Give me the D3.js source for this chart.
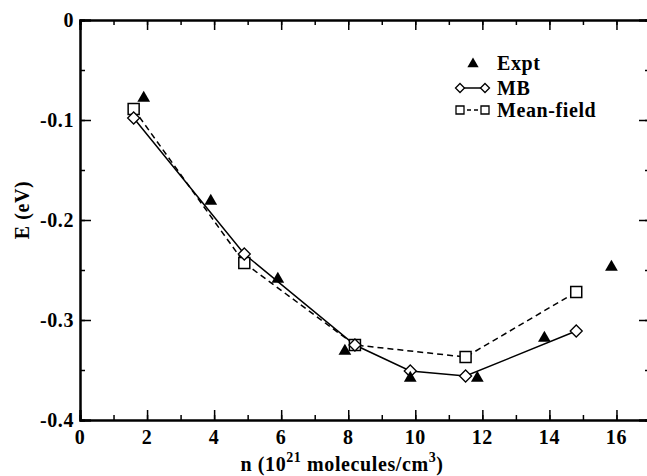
<!DOCTYPE html>
<html>
<head>
<meta charset="utf-8">
<script src="https://cdn.jsdelivr.net/npm/d3@7"></script>
<style>
  body { margin: 0; background: #fff; }
  text { font-family: "Liberation Serif", "DejaVu Serif", serif; font-weight: bold; fill: #000; letter-spacing: 0.6px; }
</style>
</head>
<body>
<div id="svg-container"></div>
<script>
const Width = 647;
const Height = 476;

// data
const exptN = [1.9, 3.9, 5.9, 7.9, 9.85, 11.85, 13.85, 15.85];
const exptE = [-0.078, -0.181, -0.259, -0.331, -0.358, -0.358, -0.318, -0.247];
const mbN = [1.6, 4.9, 8.2, 9.85, 11.5, 14.8];
const mbE = [-0.098, -0.234, -0.325, -0.351, -0.356, -0.311];
const mfN = [1.6, 4.9, 8.2, 11.5, 14.8];
const mfE = [-0.089, -0.243, -0.325, -0.337, -0.272];
const xTicks = [0, 2, 4, 6, 8, 10, 12, 14, 16];
const yTicks = [0, -0.1, -0.2, -0.3, -0.4];
const yTickLabels = ["0", "-0.1", "-0.2", "-0.3", "-0.4"];

const svg = d3.select("#svg-container").append("svg").attr("width", Width).attr("height", Height);

const x = d3.scaleLinear().domain([0, 17]).range([80, 650]);
const y = d3.scaleLinear().domain([-0.4, 0]).range([420, 20]);

// axes (ticks inside)
const axisG = svg.append("g");
const minorX = d3.range(0, 18, 1);
const minorY = d3.range(0, 9).map(i => -i * 0.05);
axisG.append("g").attr("transform", "translate(0,420)")
    .call(d3.axisBottom(x).tickValues(minorX).tickSize(-5).tickFormat(""));
axisG.append("g").attr("transform", "translate(0,420)")
    .call(d3.axisBottom(x).tickValues(xTicks).tickSize(-10).tickFormat(""));
axisG.append("g").attr("transform", "translate(0,20)")
    .call(d3.axisTop(x).tickValues(minorX).tickSize(-5).tickFormat(""));
axisG.append("g").attr("transform", "translate(0,20)")
    .call(d3.axisTop(x).tickValues(xTicks).tickSize(-10).tickFormat(""));
axisG.append("g").attr("transform", "translate(80,0)")
    .call(d3.axisLeft(y).tickValues(minorY).tickSize(-5).tickFormat(""));
axisG.append("g").attr("transform", "translate(80,0)")
    .call(d3.axisLeft(y).tickValues(yTicks).tickSize(-11).tickFormat(""));
axisG.append("g").attr("transform", "translate(650,0)")
    .call(d3.axisRight(y).tickValues(minorY).tickSize(-5).tickFormat(""));
axisG.append("g").attr("transform", "translate(650,0)")
    .call(d3.axisRight(y).tickValues(yTicks).tickSize(-11).tickFormat(""));
axisG.selectAll("path.domain").attr("stroke", "#000").attr("stroke-width", 2);
axisG.selectAll(".tick line").attr("stroke", "#000").attr("stroke-width", 1.5);

// tick labels
svg.append("g").selectAll("text").data(xTicks).join("text")
    .attr("x", d => x(d)).attr("y", 444)
    .attr("text-anchor", "middle").attr("font-size", 20)
    .text(d => d);
svg.append("g").selectAll("text").data(yTicks).join("text")
    .attr("x", 74).attr("y", d => y(d) + 7)
    .attr("text-anchor", "end").attr("font-size", 20)
    .text((d, i) => yTickLabels[i]);

// axis titles
const xt = svg.append("text").attr("x", 342).attr("y", 471).attr("text-anchor", "middle").attr("font-size", 20);
xt.append("tspan").text("n (10");
xt.append("tspan").attr("dy", -9).attr("font-size", 14).text("21");
xt.append("tspan").attr("dy", 9).text(" molecules/cm");
xt.append("tspan").attr("dy", -9).attr("font-size", 14).text("3");
xt.append("tspan").attr("dy", 9).text(")");

svg.append("text").attr("transform", "translate(29,210) rotate(-90)")
    .attr("text-anchor", "middle").attr("font-size", 20).text("E (eV)");

// lines
const line = d3.line().x(d => x(d[0])).y(d => y(d[1]));
const mbData = d3.zip(mbN, mbE);
const mfData = d3.zip(mfN, mfE);
const exptData = d3.zip(exptN, exptE);

svg.append("path").attr("d", line(mfData)).attr("fill", "none")
    .attr("stroke", "#000").attr("stroke-width", 1.5).attr("stroke-dasharray", "6,4");
svg.append("path").attr("d", line(mbData)).attr("fill", "none")
    .attr("stroke", "#000").attr("stroke-width", 1.5);

const triSym = d3.symbol().type(d3.symbolTriangle).size(70);
const diaPath = "M0,-6L6,0L0,6L-6,0Z";
const sqPath = "M-5.5,-5.5H5.5V5.5H-5.5Z";

svg.append("g").selectAll("path").data(mfData).join("path")
    .attr("d", sqPath).attr("transform", d => `translate(${x(d[0])},${y(d[1])})`)
    .attr("fill", "#fff").attr("stroke", "#000").attr("stroke-width", 1.5);
svg.append("g").selectAll("path").data(mbData).join("path")
    .attr("d", diaPath).attr("transform", d => `translate(${x(d[0])},${y(d[1])})`)
    .attr("fill", "#fff").attr("stroke", "#000").attr("stroke-width", 1.3);
svg.append("g").selectAll("path").data(exptData).join("path")
    .attr("d", triSym).attr("transform", d => `translate(${x(d[0])},${y(d[1])})`)
    .attr("fill", "#000");

// legend
const lg = svg.append("g");
lg.append("path").attr("d", d3.symbol().type(d3.symbolTriangle).size(55)).attr("transform", "translate(473,64)").attr("fill", "#000");
lg.append("text").attr("x", 497).attr("y", 70).attr("font-size", 20).text("Expt");

lg.append("line").attr("x1", 460).attr("x2", 485).attr("y1", 88).attr("y2", 88).attr("stroke", "#000").attr("stroke-width", 1.5);
lg.append("path").attr("d", "M0,-4.5L4.5,0L0,4.5L-4.5,0Z").attr("transform", "translate(460,88)").attr("fill", "#fff").attr("stroke", "#000").attr("stroke-width", 1.3);
lg.append("path").attr("d", "M0,-4.5L4.5,0L0,4.5L-4.5,0Z").attr("transform", "translate(485,88)").attr("fill", "#fff").attr("stroke", "#000").attr("stroke-width", 1.3);
lg.append("text").attr("x", 497).attr("y", 95).attr("font-size", 20).text("MB");

lg.append("line").attr("x1", 460).attr("x2", 485).attr("y1", 110).attr("y2", 110).attr("stroke", "#000").attr("stroke-width", 1.5).attr("stroke-dasharray", "4,3");
lg.append("path").attr("d", "M-4,-4H4V4H-4Z").attr("transform", "translate(460,110)").attr("fill", "#fff").attr("stroke", "#000").attr("stroke-width", 1.3);
lg.append("path").attr("d", "M-4,-4H4V4H-4Z").attr("transform", "translate(485,110)").attr("fill", "#fff").attr("stroke", "#000").attr("stroke-width", 1.3);
lg.append("text").attr("x", 497).attr("y", 117).attr("font-size", 20).text("Mean-field");
</script>
</body>
</html>
